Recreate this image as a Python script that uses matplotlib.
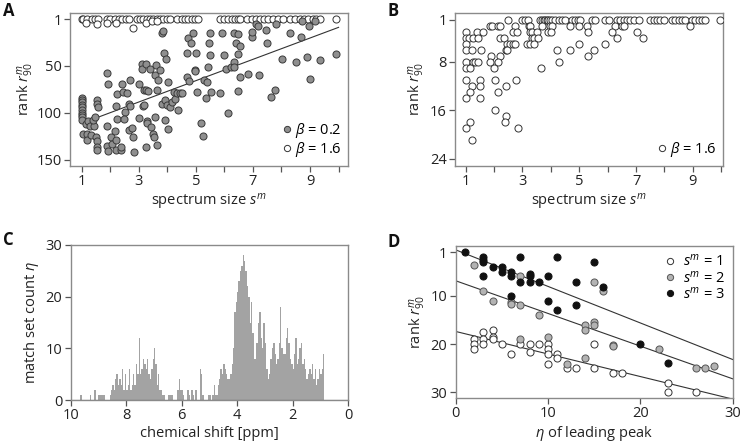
import numpy as np
import matplotlib
matplotlib.use('Agg')
import matplotlib.pyplot as plt
from matplotlib.lines import Line2D

plt.rcParams['font.family'] = ['Open Sans', 'DejaVu Sans']
plt.rcParams['mathtext.fontset'] = 'custom'
plt.rcParams['mathtext.rm'] = 'Open Sans'
plt.rcParams['mathtext.it'] = 'Open Sans:italic'
plt.rcParams['mathtext.bf'] = 'Open Sans:bold'

# ---------------- Panel A data ----------------
a_low_x = [1, 1, 1, 1, 1, 1, 1, 1, 1, 1,
           1.06, 1.2, 1.2, 1.32, 1.15, 1.23, 1.3, 1.43, 1.4, 1.47, 1.55, 1.53, 1.58, 1.5, 1.53, 1.53, 1.53,
           1.88, 1.91, 1.88, 1.88, 1.93, 2.02, 2.05, 2.17, 2.2, 2.19, 2.23, 2.2, 2.23, 2.37, 2.38, 2.41, 2.46,
           2.5, 2.48, 2.58, 2.64, 2.64, 2.7, 2.7, 2.75, 2.79, 2.83,
           2.99, 3.02, 3.1, 3.1, 3.14, 3.18, 3.2, 3.24, 3.24, 3.24, 3.28, 3.3, 3.33, 3.39, 3.42, 3.51, 3.53,
           3.57, 3.57, 3.6, 3.63, 3.65, 3.66, 3.75, 3.8, 3.86, 3.8, 3.9, 3.92, 3.96, 3.92, 3.98, 4.04, 4.04,
           4.1, 4.15, 4.24, 4.27, 4.33, 4.39, 4.45, 4.5,
           4.68, 4.7, 4.74, 4.77, 4.82, 4.91, 4.97, 4.97, 5.0, 5.03, 5.18, 5.24, 5.29, 5.38, 5.35, 5.44, 5.47,
           5.5, 5.5, 5.53,
           5.85, 5.91, 5.99, 6.06, 6.12, 6.22, 6.32, 6.32, 6.34, 6.41, 6.46, 6.49, 6.53, 6.49, 6.55, 6.81, 6.97,
           6.98, 7.11, 7.19, 7.2, 7.45, 7.5, 7.62, 7.78, 7.79, 8.01, 8.3, 8.5, 8.68, 8.71, 8.89, 8.98, 9.0,
           9.18, 9.35, 9.91]
a_low_rank = [84, 86, 89, 92, 94, 97, 100, 102, 105, 108,
              122, 122, 129, 124, 112, 109, 114, 114, 108, 104, 86, 91, 94, 126, 130, 136, 139,
              58, 70, 114, 135, 140, 126, 133, 119, 129, 139, 80, 93, 107, 139, 136, 70, 78,
              99, 107, 79, 91, 118, 65, 93, 116, 126, 142,
              70, 106, 48, 54, 93, 92, 76, 48, 76, 136, 109, 111, 77, 54, 115, 122, 126,
              60, 104, 49, 76, 134, 65, 55, 16, 13, 91, 37, 86, 43, 108, 92, 67, 117,
              94, 89, 78, 85, 79, 97, 79, 79,
              62, 37, 21, 66, 26, 16, 55, 56, 37, 78, 111, 125, 65, 67, 84, 52, 26,
              15, 39, 78,
              79, 15, 39, 54, 100, 52, 16, 46, 51, 26, 17, 38, 62, 77, 29, 59, 20,
              14, 6, 8, 60, 12, 26, 83, 76, 6, 43, 15, 46, 20, 3, 41, 8, 64,
              3, 44, 38]
a_high_x = [1.0, 1.06, 1.2, 1.35, 1.47, 1.58, 1.88, 1.99, 2.17, 2.29, 2.4, 2.55, 2.67,
            2.93, 3.04, 3.16, 3.28, 3.39, 3.51, 3.63, 3.75, 3.86, 3.98, 4.1,
            4.33, 4.5, 4.62, 4.74, 4.86, 4.97, 5.09, 5.85, 5.99, 6.14, 6.26, 6.37, 6.46, 6.55,
            6.78, 6.96, 7.11, 7.25, 7.37, 7.54, 7.69, 7.89, 8.07,
            8.3, 8.48, 8.65, 8.79, 8.94, 9.1, 9.21, 9.35, 9.91,
            1.15, 1.53, 1.9, 2.2, 2.81, 3.24, 3.45, 3.63]
a_high_rank = [1, 1, 1, 1, 1, 1, 1, 1, 1, 1, 1, 1, 1,
               1, 1, 1, 1, 1, 1, 1, 1, 1, 1, 1,
               1, 1, 1, 1, 1, 1, 1, 1, 1, 1, 1, 1, 1, 1,
               1, 1, 1, 1, 1, 1, 1, 1, 1,
               1, 1, 1, 1, 1, 1, 1, 1, 1,
               4.5, 6, 4.5, 4.5, 10.5, 4.5, 3, 2.5]
a_fit = [122.5, -11.3]          # intercept, slope of trend line (beta = 0.2)
a_fit_span = [1.47, 10.0]

# ---------------- Panel B data ----------------
b_x = [2.5, 2.97, 3.09, 3.21, 3.62, 3.68, 3.74, 3.8, 3.86, 3.91, 3.97, 4.03, 4.15, 4.27, 4.38, 4.5,
       4.74, 4.85, 4.97, 5.03, 5.44, 5.56, 5.91, 6.03, 6.32, 6.44, 6.56, 6.68, 6.79, 6.91, 7.09,
       7.5, 7.62, 7.73, 7.85, 7.97, 8.26, 8.38, 8.5, 8.61, 8.73, 8.97, 9.08, 9.2, 9.32, 9.44, 9.97,
       1.86, 1.92, 2.15, 2.21, 2.72, 3.23, 3.27, 3.68, 3.97, 4.03, 4.68, 4.99, 5.27, 6.26, 6.5, 6.56, 8.91,
       1.0, 1.39, 1.62, 2.68, 2.8, 3.27, 3.33, 3.5, 3.91, 4.01, 5.29, 6.15, 7.03,
       1.0, 1.12, 1.27, 1.42, 2.21, 2.36, 3.33, 3.39, 3.56, 6.32, 7.24,
       1.0, 2.45, 2.56, 2.68, 2.74, 3.15, 3.27, 3.39, 4.99, 5.91,
       1.0, 1.24, 1.54, 2.41, 2.45, 4.21, 4.68, 5.52,
       1.89, 2.21, 5.32,
       1.0, 1.27, 1.33, 1.45, 1.86, 2.15, 4.3,
       1.0, 1.15, 2.01, 3.66,
       1.0, 1.51, 2.03, 2.77,
       1.21, 1.51, 2.42,
       1.15, 2.15,
       1.0, 1.51,
       2.03,
       2.42,
       1.15, 2.39,
       1.0, 2.83,
       1.21]
b_rank = [1, 1, 1, 1, 1, 1, 1, 1, 1, 1, 1, 1, 1, 1, 1, 1,
          1, 1, 1, 1, 1, 1, 1, 1, 1, 1, 1, 1, 1, 1, 1,
          1, 1, 1, 1, 1, 1, 1, 1, 1, 1, 1, 1, 1, 1, 1, 1,
          2, 2, 2, 2, 2, 2, 2, 2, 2, 2, 2, 2, 2, 2, 2, 2, 2,
          3, 3, 3, 3, 3, 3, 3, 3, 3, 3, 3, 3, 3,
          4, 4, 4, 4, 4, 4, 4, 4, 4, 4, 4,
          5, 5, 5, 5, 5, 5, 5, 5, 5, 5,
          6, 6, 6, 6, 6, 6, 6, 6,
          7, 7, 7,
          8, 8, 8, 8, 8, 8, 8,
          9, 9, 9, 9,
          11, 11, 11, 11,
          12, 12, 12,
          13, 13,
          14, 14,
          16,
          17,
          18, 18,
          19, 19,
          21]

# ---------------- Panel C data ----------------
c_first_center = 9.725   # ppm, bins of 0.05 ppm going downfield -> upfield
c_bin_width = 0.05
c_counts = [0, 0, 1, 0, 0, 0, 0, 0, 0, 1, 0, 0, 2, 0, 0, 1, 1, 1, 1, 1,
            0, 0, 0, 1, 2, 3, 2, 4, 5, 3, 4, 3, 6, 2, 5, 2, 3, 6, 2, 3,
            5, 3, 7, 5, 12, 5, 6, 8, 7, 6, 8, 5, 4, 6, 8, 10, 7, 3, 5, 2,
            2, 1, 1, 0, 0, 1, 1, 1, 1, 0, 0, 0, 2, 4, 2, 2, 1, 0, 0, 2,
            1, 0, 2, 1, 0, 2, 0, 0, 6, 5, 1, 0, 0, 0, 1, 1, 0, 1, 3, 1,
            1, 3, 4, 6, 5, 7, 6, 5, 4, 4, 5, 7, 10, 17, 19, 21, 23, 25, 26, 28,
            27, 25, 22, 20, 15, 19, 13, 8, 8, 11, 15, 17, 12, 10, 15, 11, 6, 4, 5, 8,
            10, 11, 9, 7, 8, 11, 18, 10, 9, 9, 12, 14, 11, 8, 7, 6, 9, 12, 7, 8,
            10, 11, 7, 8, 6, 4, 5, 6, 5, 7, 4, 6, 3, 4, 6, 5, 6, 9]

# ---------------- Panel D data ----------------
d1_eta = [2, 2, 2, 3, 3, 3, 4, 4, 4, 5, 6, 7, 8, 8, 9, 10, 10, 10, 10, 11, 11, 12, 13, 15, 15,
          17, 18, 23, 23, 26]
d1_rank = [19, 20, 21, 17.6, 19, 20, 17.1, 18.5, 19, 20, 22, 20, 20, 21.6, 20, 20, 21, 22, 24.1,
           22, 23, 25, 25, 20, 25, 26, 26, 28, 30, 30]
d2_eta = [2, 3, 4, 6, 6, 7, 7, 7, 9, 10, 12, 14, 14, 14, 15, 15, 15, 16, 17, 17, 22, 26, 27, 28]
d2_rank = [3.6, 9.1, 11, 11.4, 11.8, 6, 12, 19, 14, 18.5, 24.1, 16.1, 17, 23, 7.1, 15.5, 16,
           9, 20.2, 20.5, 21, 25, 25, 24.5]
d3_eta = [1, 3, 3, 3, 3, 4, 5, 5, 6, 6, 6, 7, 7, 8, 8, 8, 9, 10, 10, 11, 11, 13, 13, 15, 16, 20, 23]
d3_rank = [1, 2, 2.6, 3.1, 6, 4, 4, 5, 5, 6, 10, 2, 7.1, 5.5, 6, 7.1, 7.1, 6, 11, 2, 13, 7.1, 12,
           3.1, 8.1, 20, 24]
d_fit_intercept = [17.4, 6.9, 0.5]   # s^m = 1, 2, 3
d_fit_slope = [0.467, 0.677, 0.757]

# ---------------- styling ----------------
SPINE = '#8a8a8a'
TXT = '#222222'
FS = 10.5


def style(ax):
    for s in ax.spines.values():
        s.set_color(SPINE)
        s.set_linewidth(1.0)
    ax.tick_params(direction='out', length=4, width=0.9, color='#555555',
                   labelsize=FS, labelcolor=TXT, pad=2)


W, H = 741, 442
fig = plt.figure(figsize=(W / 100, H / 100), dpi=100)


def box(l, t, r, b):
    return [l / W, 1 - b / H, (r - l) / W, (b - t) / H]


axA = fig.add_axes(box(70, 13, 348, 166))
axB = fig.add_axes(box(455, 13, 723, 166))
axC = fig.add_axes(box(70.7, 245, 348, 400))
axD = fig.add_axes(box(455.7, 246, 732.7, 397.7))

ms = 26
lw = 0.7
lms = 4.5

# Panel A
style(axA)
axA.scatter(a_high_x, a_high_rank, s=ms, facecolor='white', edgecolor='#333333', linewidth=lw, zorder=3)
axA.scatter(a_low_x, a_low_rank, s=ms, facecolor='#8f8f8f', edgecolor='#3a3a3a', linewidth=lw, zorder=3)
xs = np.array(a_fit_span)
axA.plot(xs, a_fit[0] + a_fit[1] * xs, color='#333333', lw=0.8, zorder=2)
axA.set_xlim(0.59, 10.33)
axA.set_ylim(156.4, -5.7)
axA.set_xticks(range(1, 11))
axA.set_xticklabels(['1', '', '3', '', '5', '', '7', '', '9', ''])
axA.set_yticks([1, 50, 100, 150])
axA.set_xlabel(r'spectrum size $s^m$', fontsize=FS, color=TXT, labelpad=2)
axA.set_ylabel(r'rank $r^m_{90}$', fontsize=FS, color=TXT, labelpad=0)
hA = [Line2D([], [], ls='none', marker='o', ms=lms, mfc='#8f8f8f', mec='#3a3a3a', mew=lw),
      Line2D([], [], ls='none', marker='o', ms=lms, mfc='white', mec='#333333', mew=lw)]
axA.legend(hA, [r'$\beta$ = 0.2', r'$\beta$ = 1.6'], loc='lower right', frameon=False,
           fontsize=FS, handlelength=0.7, handletextpad=0.2, labelspacing=0.05, borderaxespad=0.05)

# Panel B
style(axB)
axB.scatter(b_x, b_rank, s=ms, facecolor='white', edgecolor='#333333', linewidth=lw, zorder=3)
axB.set_xlim(0.624, 10.06)
axB.set_ylim(25.24, -0.11)
axB.set_xticks(range(1, 11))
axB.set_xticklabels(['1', '', '3', '', '5', '', '7', '', '9', ''])
axB.set_yticks([1, 8, 16, 24])
axB.set_xlabel(r'spectrum size $s^m$', fontsize=FS, color=TXT, labelpad=2)
axB.set_ylabel(r'rank $r^m_{90}$', fontsize=FS, color=TXT, labelpad=2)
axB.legend(hA[1:], [r'$\beta$ = 1.6'], loc='lower right', frameon=False,
           fontsize=FS, handlelength=0.7, handletextpad=0.2, borderaxespad=0.05)

# Panel C
style(axC)
centers = c_first_center - c_bin_width * np.arange(len(c_counts))
axC.bar(centers, c_counts, width=c_bin_width, color='#a3a3a3', linewidth=0, zorder=2)
axC.axhline(0, color='#555555', lw=0.8, zorder=3)
axC.set_xlim(10, 0)
axC.set_ylim(0, 30)
axC.set_xticks([10, 8, 6, 4, 2, 0])
axC.set_yticks([0, 10, 20, 30])
axC.set_xlabel('chemical shift [ppm]', fontsize=FS, color=TXT, labelpad=2)
axC.set_ylabel(r'match set count $\eta$', fontsize=FS, color=TXT, labelpad=3)

# Panel D
style(axD)
ex = np.array([0, 30])
for b0, b1 in zip(d_fit_intercept, d_fit_slope):
    axD.plot(ex, b0 + b1 * ex, color='#333333', lw=0.8, zorder=2)
axD.scatter(d1_eta, d1_rank, s=ms, facecolor='white', edgecolor='#333333', linewidth=lw, zorder=3)
axD.scatter(d2_eta, d2_rank, s=ms, facecolor='#b3b3b3', edgecolor='#555555', linewidth=lw, zorder=3)
axD.scatter(d3_eta, d3_rank, s=ms, facecolor='#111111', edgecolor='#111111', linewidth=lw, zorder=3)
axD.set_xlim(0, 30)
axD.set_ylim(31.12, -0.3)
axD.set_xticks([0, 10, 20, 30])
axD.set_yticks([1, 10, 20, 30])
axD.set_xlabel(r'$\eta$ of leading peak', fontsize=FS, color=TXT, labelpad=2)
axD.set_ylabel(r'rank $r^m_{90}$', fontsize=FS, color=TXT, labelpad=2)
hD = [Line2D([], [], ls='none', marker='o', ms=lms, mfc='white', mec='#333333', mew=lw),
      Line2D([], [], ls='none', marker='o', ms=lms, mfc='#b3b3b3', mec='#555555', mew=lw),
      Line2D([], [], ls='none', marker='o', ms=lms, mfc='#111111', mec='#111111', mew=lw)]
axD.legend(hD, [r'$s^m$ = 1', r'$s^m$ = 2', r'$s^m$ = 3'], loc='upper right', frameon=False,
           fontsize=FS, handlelength=0.8, handletextpad=0.5, labelspacing=0.02, borderaxespad=0.15)

for lab, x, y in [('A', 3, 2), ('B', 387, 2), ('C', 3, 231), ('D', 387, 233)]:
    fig.text(x / W, 1 - y / H, lab, fontsize=12, fontweight='bold', va='top', ha='left', color='#111111')

fig.savefig('out.png', dpi=100)
